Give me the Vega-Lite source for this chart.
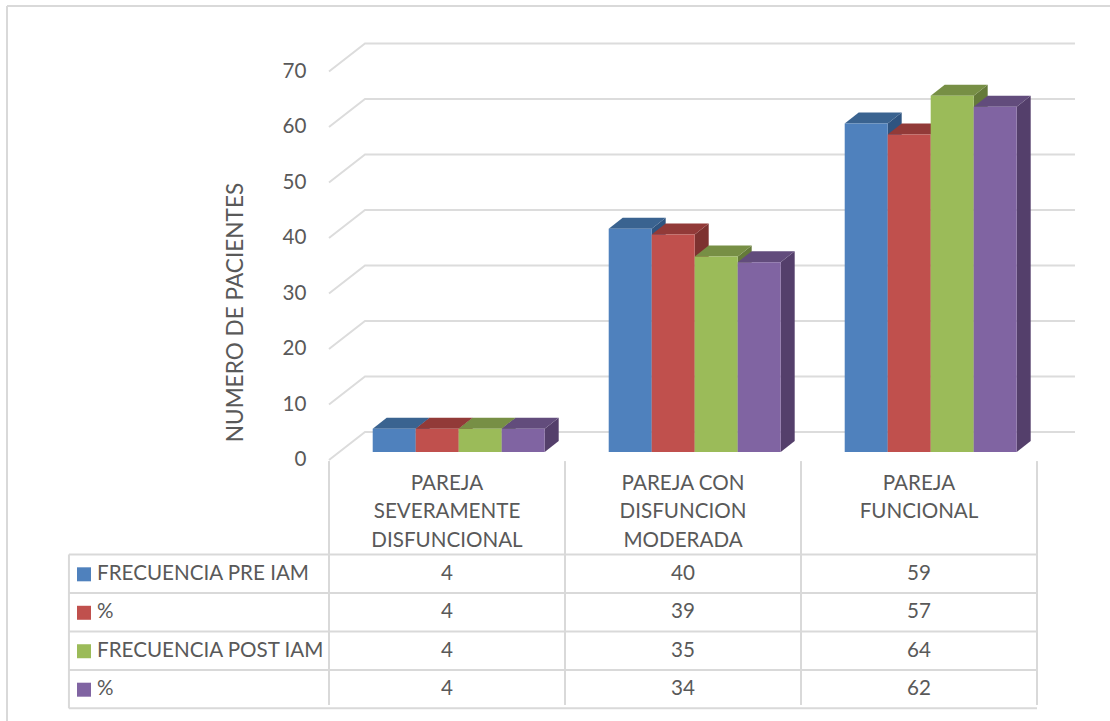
{"$schema":"https://vega.github.io/schema/vega-lite/v6.json","width":1110,"height":721,"padding":0,"autosize":{"type":"none"},"background":"white","view":{"stroke":null},"config":{"text":{"font":"Lato","fontSize":20.6,"color":"#595959"},"axis":{"labelFont":"Lato","titleFont":"Lato"}},
"datasets":{"barras":[
{"grupo":0,"orden":0,"serie":"FRECUENCIA PRE IAM","valor":4},{"grupo":0,"orden":1,"serie":"%","valor":4},{"grupo":0,"orden":2,"serie":"FRECUENCIA POST IAM","valor":4},{"grupo":0,"orden":3,"serie":"%","valor":4},
{"grupo":1,"orden":0,"serie":"FRECUENCIA PRE IAM","valor":40},{"grupo":1,"orden":1,"serie":"%","valor":39},{"grupo":1,"orden":2,"serie":"FRECUENCIA POST IAM","valor":35},{"grupo":1,"orden":3,"serie":"%","valor":34},
{"grupo":2,"orden":0,"serie":"FRECUENCIA PRE IAM","valor":59},{"grupo":2,"orden":1,"serie":"%","valor":57},{"grupo":2,"orden":2,"serie":"FRECUENCIA POST IAM","valor":64},{"grupo":2,"orden":3,"serie":"%","valor":62}],
"series":[{"orden":0,"serie":"FRECUENCIA PRE IAM"},{"orden":1,"serie":"%"},{"orden":2,"serie":"FRECUENCIA POST IAM"},{"orden":3,"serie":"%"}],
"categorias":[{"grupo":0,"categoria":"PAREJA\nSEVERAMENTE\nDISFUNCIONAL"},{"grupo":1,"categoria":"PAREJA CON\nDISFUNCION\nMODERADA"},{"grupo":2,"categoria":"PAREJA\nFUNCIONAL"}],
"marcas":[{"valor":0},{"valor":10},{"valor":20},{"valor":30},{"valor":40},{"valor":50},{"valor":60},{"valor":70}],
"filas":[{"fila":0},{"fila":1},{"fila":2},{"fila":3},{"fila":4}],
"columnas":[{"col":0},{"col":1},{"col":2},{"col":3}]},
"layer":[
{"data":{"name":"marcas"},"transform":[{"calculate":"0","as":"a"},{"calculate":"0.1525","as":"b"},{"calculate":"3.161","as":"c"},{"fold":["a","b","c"],"as":["k","gx"]},{"calculate":"datum.valor+(datum.gx>0?5.045:0)","as":"gy"}],
"mark":{"type":"line","color":"#DCDCDC","strokeWidth":2},
"encoding":{"x":{"field":"gx","type":"quantitative","axis":null,"scale":{"domain":[-1.39407,3.30932],"nice":false,"zero":false}},
"y":{"field":"gy","type":"quantitative","scale":{"domain":[-47.03,82.88],"nice":false,"zero":false},
"axis":{"values":[0,10,20,30,40,50,60,70],"orient":"left","offset":-306,"domain":false,"ticks":false,"grid":false,"labelPadding":0,"labelFontSize":20.6,"labelColor":"#595959","title":"NUMERO DE PACIENTES","titleFontSize":22.6,"titleColor":"#595959","titleFontWeight":"normal","titleAngle":-90,"titleX":-71,"titleY":312,"titleBaseline":"middle","titleAlign":"center"}},
"detail":{"field":"valor"}}},
{"data":{"values":[{"x1":-1.3644,"x2":3.30932,"y1":81.8,"y2":81.8},{"x1":-1.3644,"x2":-1.3644,"y1":81.8,"y2":-47.03}]},
"mark":{"type":"rule","color":"#D9D9D9","strokeWidth":2},
"encoding":{"x":{"field":"x1","type":"quantitative"},"x2":{"field":"x2"},"y":{"field":"y1","type":"quantitative"},"y2":{"field":"y2"}}},
{"data":{"name":"columnas"},"transform":[{"calculate":"-44.14","as":"abajo"},{"calculate":"datum.col==0?-0.2:-0.2","as":"arriba"}],
"mark":{"type":"rule","color":"#D9D9D9","strokeWidth":2},
"encoding":{"x":{"field":"col","type":"quantitative"},"y":{"field":"abajo","type":"quantitative"},"y2":{"field":"arriba"}}},
{"data":{"name":"filas"},"transform":[{"calculate":"-17.03-6.93*datum.fila","as":"fy"},{"calculate":"-1.102","as":"izq"},{"calculate":"3","as":"der"}],
"mark":{"type":"rule","color":"#D9D9D9","strokeWidth":2},
"encoding":{"y":{"field":"fy","type":"quantitative"},"x":{"field":"izq","type":"quantitative"},"x2":{"field":"der"}}},
{"data":{"values":[{"u":-1.102,"a":-17.03,"b":-44.75}]},
"mark":{"type":"rule","color":"#D9D9D9","strokeWidth":2},
"encoding":{"x":{"field":"u","type":"quantitative"},"y":{"field":"a","type":"quantitative"},"y2":{"field":"b"}}},
{"data":{"name":"barras"},"transform":[{"calculate":"datum.grupo+0.1852+datum.orden*0.1822+0.1822","as":"xd"},{"calculate":"0","as":"p0"},{"calculate":"1","as":"p1"},{"fold":["p0","p1"],"as":["k","t"]},{"calculate":"datum.xd+datum.t*0.0593","as":"sx"},{"calculate":"datum.valor+1.65+datum.t*1.98","as":"sy"},{"calculate":"1.44+datum.t*1.98","as":"sb"},{"calculate":"datum.orden+'-lado'","as":"tono"}],
"mark":{"type":"area","orient":"vertical","interpolate":"linear"},
"encoding":{"x":{"field":"sx","type":"quantitative"},"y":{"field":"sy","type":"quantitative","stack":false},"y2":{"field":"sb"},"detail":{"field":"grupo"},
"color":{"field":"tono","type":"nominal","legend":null,"scale":{"domain":["0-frente","1-frente","2-frente","3-frente","0-lado","1-lado","2-lado","3-lado","0-tapa","1-tapa","2-tapa","3-tapa"],"range":["#4F81BD","#C0504D","#9BBB59","#8064A2","#2F5480","#7D3230","#657A3A","#543F6B","#3A6390","#923A38","#778F45","#624C7C"]}}}},
{"data":{"name":"barras"},"transform":[{"calculate":"datum.grupo+0.1852+datum.orden*0.1822","as":"xi"},{"calculate":"0","as":"p0"},{"calculate":"1","as":"p1"},{"fold":["p0","p1"],"as":["k","t"]},{"calculate":"datum.xi+datum.t*0.0593","as":"tx"},{"calculate":"datum.tx+0.1822","as":"tx2"},{"calculate":"datum.valor+1.65+datum.t*1.98","as":"ty"},{"calculate":"datum.orden+'-tapa'","as":"tono"}],
"mark":{"type":"area","orient":"horizontal","interpolate":"linear"},
"encoding":{"y":{"field":"ty","type":"quantitative"},"x":{"field":"tx","type":"quantitative","stack":false},"x2":{"field":"tx2"},"detail":{"field":"grupo"},"color":{"field":"tono","type":"nominal"}}},
{"data":{"name":"barras"},"transform":[{"calculate":"datum.grupo+0.1852+datum.orden*0.1822","as":"xi"},{"calculate":"datum.xi+0.1822","as":"xf"},{"calculate":"datum.valor+1.65","as":"yt"},{"calculate":"1.44","as":"yb"},{"calculate":"datum.orden+'-frente'","as":"tono"}],
"mark":{"type":"rect"},
"encoding":{"x":{"field":"xi","type":"quantitative"},"x2":{"field":"xf"},"y":{"field":"yt","type":"quantitative"},"y2":{"field":"yb"},"color":{"field":"tono","type":"nominal"}}},
{"data":{"name":"categorias"},"transform":[{"calculate":"datum.grupo+0.5","as":"cx"},{"calculate":"-2.5","as":"cy"}],
"mark":{"type":"text","align":"center","baseline":"top","lineBreak":"\n","lineHeight":28.6},
"encoding":{"x":{"field":"cx","type":"quantitative"},"y":{"field":"cy","type":"quantitative"},"text":{"field":"categoria"}}},
{"data":{"name":"barras"},"transform":[{"calculate":"datum.grupo+0.5","as":"cx"},{"calculate":"-20.5-6.93*datum.orden","as":"cy"}],
"mark":{"type":"text","align":"center","baseline":"middle"},
"encoding":{"x":{"field":"cx","type":"quantitative"},"y":{"field":"cy","type":"quantitative"},"text":{"field":"valor"}}},
{"data":{"name":"series"},"transform":[{"calculate":"-0.983","as":"lx"},{"calculate":"-20.5-6.93*datum.orden","as":"cy"}],
"mark":{"type":"text","align":"left","baseline":"middle"},
"encoding":{"x":{"field":"lx","type":"quantitative"},"y":{"field":"cy","type":"quantitative"},"text":{"field":"serie"}}},
{"data":{"name":"series"},"transform":[{"calculate":"-1.0381","as":"lx"},{"calculate":"-20.6-6.93*datum.orden","as":"cy"},{"calculate":"datum.orden+'-frente'","as":"tono"}],
"mark":{"type":"point","shape":"square","filled":true,"size":196,"opacity":1},
"encoding":{"x":{"field":"lx","type":"quantitative"},"y":{"field":"cy","type":"quantitative"},"color":{"field":"tono","type":"nominal"}}}
]}
